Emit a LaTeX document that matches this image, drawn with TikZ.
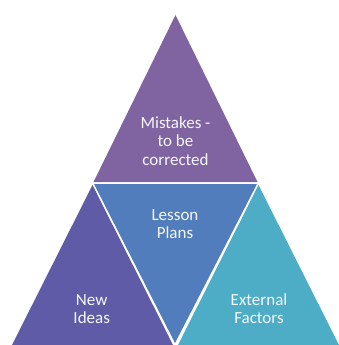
\documentclass[tikz,border=0pt]{standalone}
\usepackage{fontspec}
\setmainfont{Carlito}
\definecolor{cTop}{HTML}{8064A2}
\definecolor{cLeft}{HTML}{5F5BA7}
\definecolor{cMid}{HTML}{527DBD}
\definecolor{cRight}{HTML}{4DADC6}
\begin{document}
\begin{tikzpicture}[x=1pt,y=-1pt,
  lbl/.style={text=white!94!cMid,font=\fontsize{17}{18.3}\selectfont,align=center,inner sep=0pt,anchor=base}]
\useasboundingbox (0,0) rectangle (338,345);
\fill[cTop] (175.5,15) -- (257.5,182) -- (93.5,182) -- cycle;
\fill[cLeft] (92.5,185) -- (173,345) -- (12,345) -- cycle;
\fill[cMid] (94,184) -- (257,184) -- (175,343) -- cycle;
\fill[cRight] (258.5,185) -- (339,345) -- (178,345) -- cycle;
\node[lbl] (mistakes) at (175.5,165) {Mistakes -\\to be\\corrected};
\node[lbl] (lesson) at (175,238.3) {Lesson\\Plans};
\node[lbl] (newideas) at (91.7,323.3) {New\\Ideas};
\node[lbl] (external) at (259,323.3) {External\\Factors};
\end{tikzpicture}
\end{document}
